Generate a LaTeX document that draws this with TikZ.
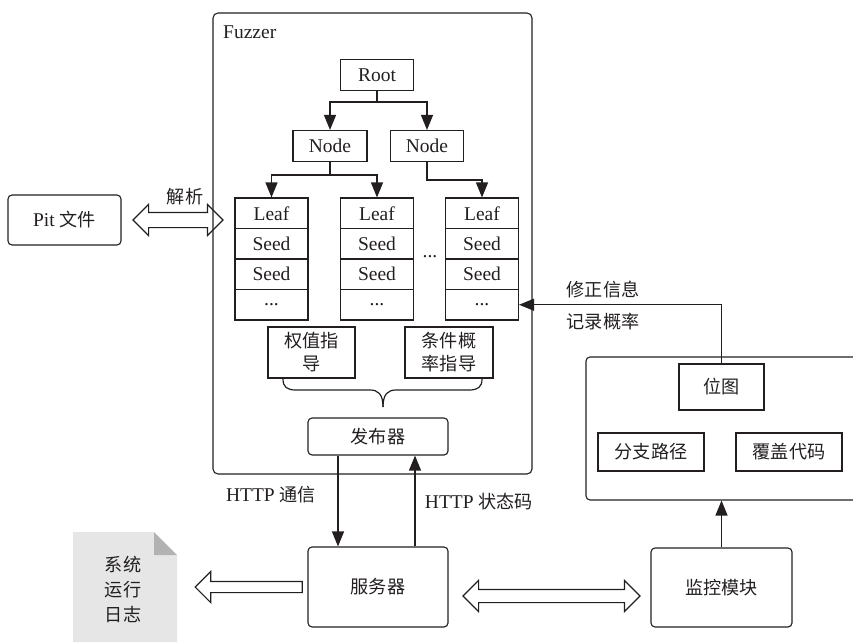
\documentclass[tikz,border=0pt]{standalone}
\usepackage{fontspec}
\setmainfont{Liberation Serif}
\newfontfamily\zhfont[Scale=0.93]{Noto Sans CJK SC}
\usetikzlibrary{arrows.meta,shapes.arrows,calc}
\newcommand\zh[1]{{\zhfont #1}}
\definecolor{ink}{HTML}{231F20}
\definecolor{paper}{HTML}{E6E6E6}
\definecolor{fold}{HTML}{B2B2B2}

\begin{document}
\begin{tikzpicture}[x=1pt,y=-1pt,
  font=\fontsize{19.5}{23}\selectfont,
  every node/.style={inner sep=0pt, text=ink},
  box/.style={draw=ink, line width=1.1pt, rectangle, inner sep=0pt},
  rbox/.style={box, rounded corners=4pt},
  cell/.style={box, minimum width=73pt, minimum height=30.5pt},
  arr/.style={draw=ink, line width=1.2pt, -{Triangle[length=15pt,width=12pt]}},
  plain/.style={draw=ink, line width=1.2pt},
  fatd/.style={double arrow, draw=ink, line width=1.1pt, inner xsep=0pt,
    double arrow tip angle=90},
  fats/.style={single arrow, draw=ink, line width=1.1pt, inner xsep=0pt,
    single arrow tip angle=90, shape border rotate=180}
]
\useasboundingbox (0,0) rectangle (853,642);
\clip (0,0) rectangle (853,642);

% Fuzzer frame
\node[rbox, rounded corners=5pt, minimum width=319pt, minimum height=461pt] (fuzz) at (372.5,243.5) {};
\node[anchor=base west] (fuzzlbl) at (223,39) {Fuzzer};

% tree
\node[box, minimum width=73pt, minimum height=31pt] (root) at (377,75) {Root};
\node[box, minimum width=74pt, minimum height=31pt] (n1) at (330,146) {Node};
\node[box, minimum width=73pt, minimum height=31pt] (n2) at (427,146) {Node};

% leaf columns
\foreach \i/\x in {1/271.5,2/377,3/482}{
  \node[cell] (l\i-a) at (\x,213.25) {Leaf};
  \node[cell] (l\i-b) at (\x,243.75) {Seed};
  \node[cell] (l\i-c) at (\x,274.25) {Seed};
  \node[cell] (l\i-d) at (\x,304.75) {...};
}
\node (dots) at (430,257) {...};

\draw[arr] (root.south) -- ++(0,11) -| (n1.north);
\draw[arr] (root.south) -- ++(0,11) -| (n2.north);
\draw[arr] (n1.south) -- ++(0,13) -| (l1-a.north);
\draw[arr] (n1.south) -- ++(0,13) -| (l2-a.north);
\draw[arr] (n2.south) -- ++(0,18) -| (l3-a.north);

% guidance boxes and brace
\node[box, minimum width=87pt, minimum height=51pt, align=center] (g1) at (311.5,352.5) {\zh{权值指}\\\zh{导}};
\node[box, minimum width=88pt, minimum height=51pt, align=center] (g2) at (449,352.5) {\zh{条件概}\\\zh{率指导}};
\coordinate (btip) at (383,407);
\draw[plain] (283,379) .. controls (283,387) and (287,390) .. (296,390) -- (370,390)
  .. controls (378,390) and (383,394) .. (btip);
\draw[plain] (482,379) .. controls (482,387) and (478,390) .. (469,390) -- (396,390)
  .. controls (388,390) and (383,394) .. (btip);

% dispatcher
\node[rbox, minimum width=140pt, minimum height=37pt] (fb) at (378,436.5) {\zh{发布器}};

% Pit file
\node[rbox, minimum width=113pt, minimum height=50pt] (pit) at (64.5,220) {Pit \zh{文件}};
\node[fatd, inner ysep=7pt, double arrow head extend=8pt, minimum height=90pt] (parse) at (178,220) {};
\node (parselbl) at (185,197) {\zh{解析}};

% server and monitor
\node[rbox, minimum width=140pt, minimum height=80pt] (srv) at (378,587) {\zh{服务器}};
\node[rbox, minimum width=141pt, minimum height=79pt] (jk) at (721.5,587.5) {\zh{监控模块}};

\draw[arr] ($(fb.south)+(-40,0)$) -- ($(srv.north)+(-40,0)$);
\draw[arr] ($(srv.north)+(37,0)$) -- ($(fb.south)+(37,0)$);
\node (httpa) at (271,495) {HTTP \zh{通信}};
\node (httpb) at (479,502) {HTTP \zh{状态码}};

\node[fatd, inner ysep=6pt, double arrow head extend=9pt, minimum height=177pt] (link) at (551.5,596) {};

% monitor detail
\node[rbox, minimum width=279pt, minimum height=143pt] (mon) at (725.5,428.5) {};
\node[box, minimum width=85pt, minimum height=46pt] (bmp) at (721.5,387) {\zh{位图}};
\node[box, minimum width=106pt, minimum height=38pt] (fz) at (651,452) {\zh{分支路径}};
\node[box, minimum width=106pt, minimum height=38pt] (fg) at (789,452) {\zh{覆盖代码}};
\draw[arr] (bmp.north) |- (l3-d.east);
\node (fixlbl) at (603,290) {\zh{修正信息}};
\node (reclbl) at (603,322) {\zh{记录概率}};
\draw[arr] (jk.north) -- (jk.north |- mon.south);

% system log document
\fill[paper] (73,532) -- (154,532) -- (177,555) -- (177,642) -- (73,642) -- cycle;
\fill[fold] (154,532) -- (154,555) -- (177,555) -- cycle;
\node[align=center, font=\fontsize{19.5}{25}\selectfont] (log) at (123,589) {\zh{系统}\\\zh{运行}\\\zh{日志}};
\node[fats, inner ysep=5pt, single arrow head extend=10pt, minimum height=107pt] (out) at (251.5,587) {};
\end{tikzpicture}
\end{document}
